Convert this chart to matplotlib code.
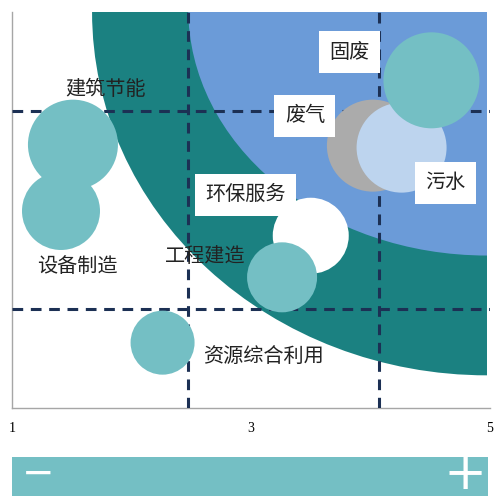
import matplotlib.pyplot as plt
from matplotlib.patches import Ellipse, Rectangle

# bubble data (x, y in chart units, r = bubble radius in px)
names = ['设备制造', '建筑节能', '资源综合利用', '环保服务', '工程建造', '废气', '污水', '固废']
xs = [1.41, 1.51, 2.26, 3.50, 3.26, 4.02, 4.26, 4.51]
ys = [1.99, 2.66, 0.66, 1.74, 1.32, 2.65, 2.63, 3.31]
radii = [39, 45, 32, 38, 35, 46, 45, 48]
colors = ['#74bfc4', '#74bfc4', '#74bfc4', '#ffffff', '#74bfc4', '#ababab', '#bdd4ee', '#74bfc4']
boxed = [False, False, False, True, False, True, True, True]
# label offsets from bubble centre, in pixels
label_dx = [16, 33, 101, -65, -77, -68, 44, -82]
label_dy = [-56, 55, -15, 41, 21, 30, -35, 28]

x_ticks = [1, 3, 5]
h_lines = [1, 3]
v_lines = [2.47, 4.07]

dpi = 100
fig = plt.figure(figsize=(5, 5), dpi=dpi)
ax = fig.add_axes([12 / 500, 92 / 500, 478 / 500, 396 / 500])
ax.set_xlim(1, 5)
ax.set_ylim(0, 4)

# background zones: quarter ellipses from the top-right corner
clip = Rectangle((1, 0), 3.975, 4, transform=ax.transData)
outer = Ellipse((4.975, 4), 2 * 3.305, 2 * 3.67, color='#1b8181', lw=0, zorder=1)
inner = Ellipse((4.975, 4.03), 2 * 2.50, 2 * 2.49, color='#6b9bd8', lw=0, zorder=2)
for e in (outer, inner):
    ax.add_patch(e)
    e.set_clip_path(clip)

# quadrant lines
for y in h_lines:
    ax.axhline(y, color='#1c3054', lw=2.2, ls=(0, (3.5, 2.5)), zorder=3)
for x in v_lines:
    ax.axvline(x, color='#1c3054', lw=2.2, ls=(0, (3.5, 2.5)), zorder=3)

sizes = [(2 * r * 72 / dpi) ** 2 for r in radii]
ax.scatter(xs, ys, s=sizes, c=colors, linewidths=0, zorder=4)

for name, x, y, dx, dy, b in zip(names, xs, ys, label_dx, label_dy, boxed):
    bbox = dict(boxstyle='square,pad=0.52', fc='white', ec='none') if b else None
    ax.annotate(name, (x, y), xytext=(dx, dy), textcoords='offset pixels',
                ha='center', va='center', fontsize=14.5, color='#222222',
                family=['Noto Sans CJK SC', 'DejaVu Sans'], bbox=bbox, zorder=5)

for s in ['top', 'right']:
    ax.spines[s].set_visible(False)
for s in ['left', 'bottom']:
    ax.spines[s].set_color('#a6a6a6')
    ax.spines[s].set_linewidth(1)
ax.set_yticks([])
ax.set_xticks(x_ticks)
ax.set_xticklabels([str(t) for t in x_ticks], family='Liberation Serif', fontsize=10)
ax.tick_params(axis='x', length=0, pad=10)

# bottom scale bar
fig.patches.append(Rectangle((12 / 500, 4 / 500), 476 / 500, 39 / 500,
                             transform=fig.transFigure, color='#74bfc4', lw=0))
fig.text(36 / 500, 27 / 500, r'$-$', color='white', fontsize=28, ha='center', va='center')
fig.text(463 / 500, 25 / 500, r'$+$', color='white', fontsize=37, ha='center', va='center')

fig.savefig('out.png', dpi=dpi)
